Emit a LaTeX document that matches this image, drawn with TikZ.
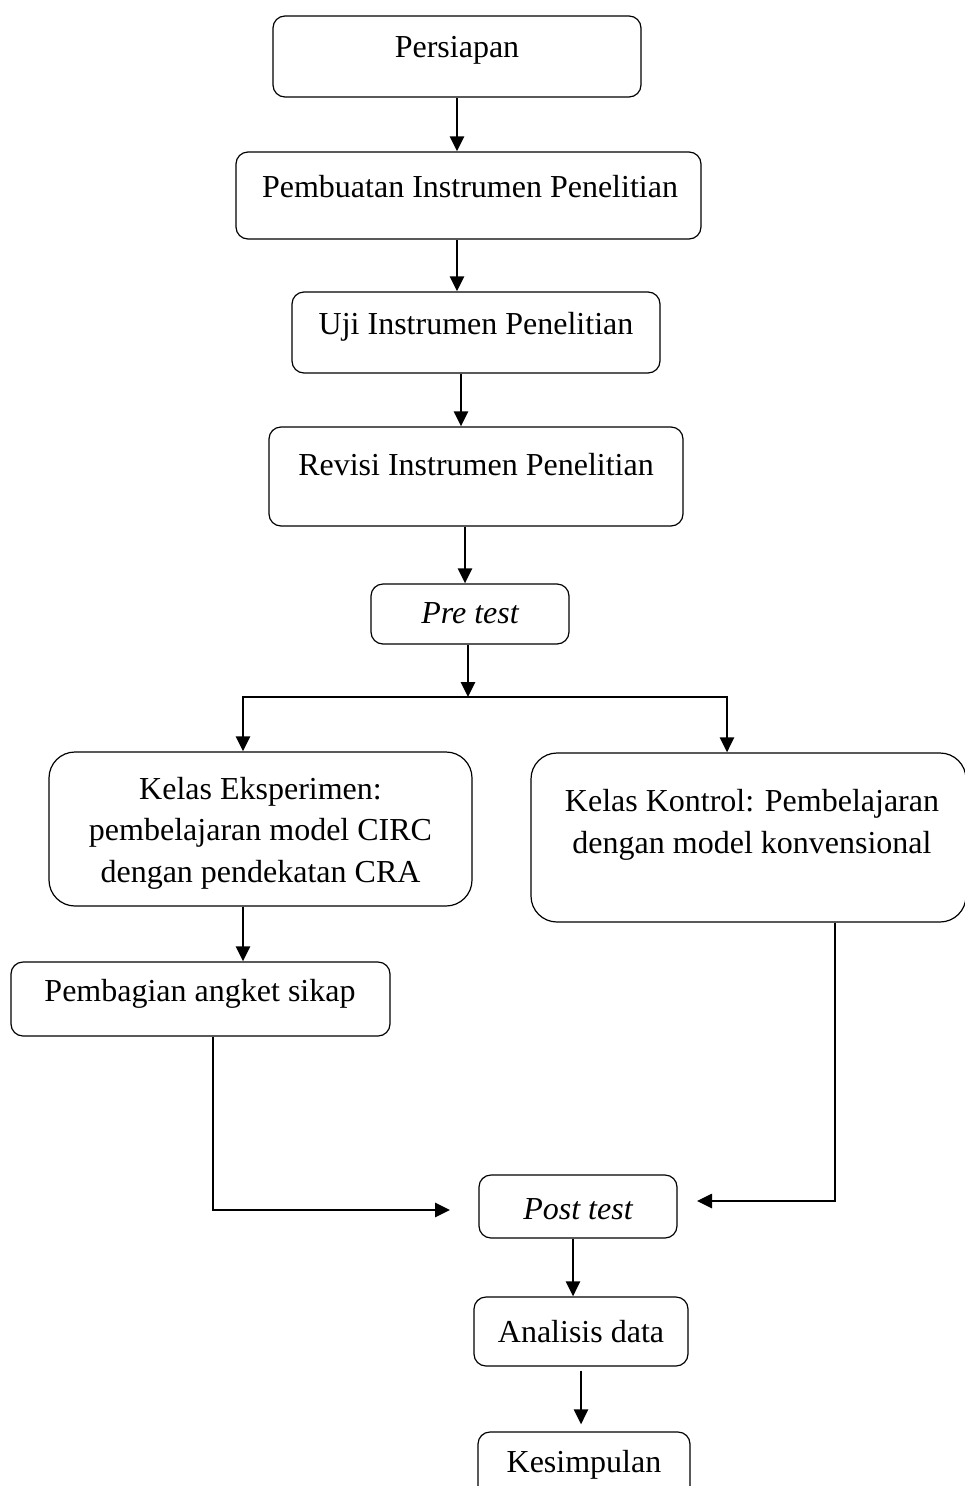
\documentclass[tikz,border=0pt]{standalone}
\usepackage{fontspec}
\setmainfont{Liberation Serif}
\usetikzlibrary{arrows.meta}
\begin{document}
\begin{tikzpicture}[x=1pt,y=-1pt,
  box/.style={draw, line width=1.2pt, rounded corners=12pt, inner sep=0pt},
  bigbox/.style={box, rounded corners=26pt},
  txt/.style={font=\fontsize{32}{41.5}\selectfont, inner sep=0pt, align=center},
  arr/.style={line width=2.7pt, -{Triangle[length=15pt,width=14pt]}},
  ln/.style={line width=2.7pt}]
\useasboundingbox (0,0) rectangle (965,1486);
% boxes
\node[box, minimum width=368pt, minimum height=81pt] (p1) at (457,56.5) {};
\node[txt] (t1) at (457,50) {Persiapan};
\node[box, minimum width=465pt, minimum height=87pt] (p2) at (468.5,195.5) {};
\node[txt] (t2) at (470,187) {Pembuatan Instrumen Penelitian};
\node[box, minimum width=368pt, minimum height=81pt] (p3) at (476,332.5) {};
\node[txt] (t3) at (476,327) {Uji Instrumen Penelitian};
\node[box, minimum width=414pt, minimum height=99pt] (p4) at (476,476.5) {};
\node[txt] (t4) at (476,465) {Revisi Instrumen Penelitian};
\node[box, minimum width=198pt, minimum height=60pt] (p5) at (470,614) {};
\node[txt] (t5) at (470,613) {\itshape Pre test};
\node[bigbox, minimum width=423pt, minimum height=154pt] (e) at (260.5,829) {};
\node[txt] (te) at (260.5,833) {Kelas Eksperimen:\\pembelajaran model CIRC\\dengan pendekatan CRA};
\node[bigbox, minimum width=435pt, minimum height=169pt] (k) at (748.5,837.5) {};
\node[txt] (tk) at (752,825) {Kelas Kontrol: Pembelajaran\\dengan model konvensional};
\node[box, minimum width=379pt, minimum height=74pt] (a) at (200.5,999) {};
\node[txt] (ta) at (200,994) {Pembagian angket sikap};
\node[box, minimum width=198pt, minimum height=63pt] (post) at (578,1206.5) {};
\node[txt] (tpost) at (578,1209) {\itshape Post test};
\node[box, minimum width=214pt, minimum height=69pt] (an) at (581,1331.5) {};
\node[txt] (tan) at (581,1332) {Analisis data};
\node[box, minimum width=212pt, minimum height=88pt] (ks) at (584,1476) {};
\node[txt] (tks) at (584,1465) {Kesimpulan};
% connectors
\draw[arr] (p1.south) -- (p1.south |- p2.north);
\draw[arr] ([xshift=-11.5pt]p2.south) -- ([xshift=-11.5pt]p2.south |- p3.north);
\draw[arr] ([xshift=-15pt]p3.south) -- ([xshift=-15pt]p3.south |- p4.north);
\draw[arr] ([xshift=-11pt]p4.south) -- ([xshift=-11pt]p4.south |- p5.north);
\coordinate (sp) at (468,697);
\coordinate (eL) at (243,697);
\coordinate (kR) at (727,697);
\draw[arr] ([xshift=-2pt]p5.south) -- (sp);
\draw[ln, line cap=rect] (eL) -- (kR);
\draw[arr] (eL) -- (eL |- e.north);
\draw[arr] (kR) -- (kR |- k.north);
\draw[arr] (eL |- e.south) -- (eL |- a.north);
\coordinate (aEnd) at (450,1210);
\draw[arr] ([xshift=12.5pt]a.south) |- (aEnd);
\coordinate (kEnd) at (697,1201);
\draw[arr] ([xshift=86.5pt]k.south) |- (kEnd);
\draw[arr] ([xshift=-5pt]post.south) -- ([xshift=-5pt]post.south |- an.north);
\draw[arr] ([yshift=-4pt]an.south) -- ([yshift=7pt]an.south |- ks.north);
\end{tikzpicture}
\end{document}
